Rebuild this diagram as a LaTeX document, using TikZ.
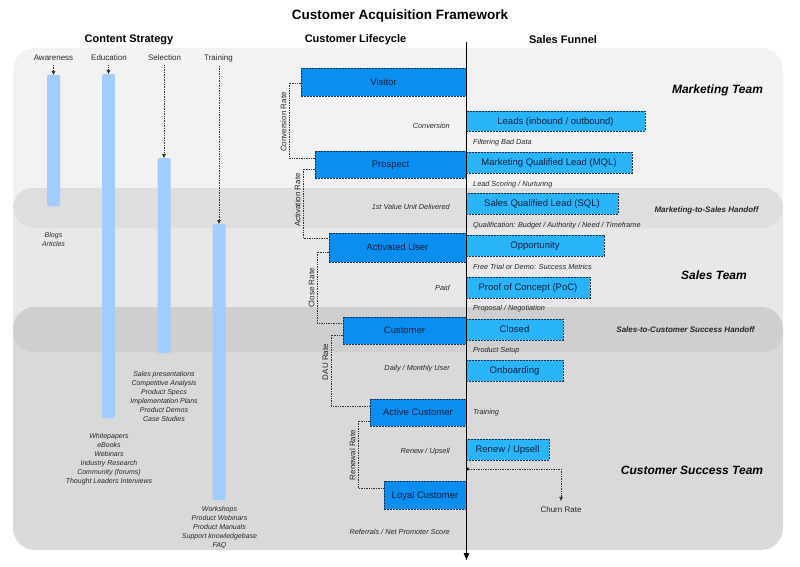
\documentclass[tikz,border=0pt]{standalone}
\usepackage{fontspec}
\setmainfont{Liberation Sans}
\usetikzlibrary{arrows.meta,calc}
\definecolor{pM}{gray}{0.949}
\definecolor{pS}{gray}{0.91}
\definecolor{pMS}{gray}{0.87}
\definecolor{pC}{gray}{0.851}
\definecolor{pSC}{gray}{0.812}
\definecolor{lcblue}{RGB}{10,142,240}
\definecolor{sfblue}{RGB}{42,181,250}
\definecolor{barblue}{RGB}{160,204,255}
\definecolor{boxline}{RGB}{26,48,80}
\definecolor{boxtext}{RGB}{10,30,58}
\definecolor{txt}{gray}{0.15}
\definecolor{dotc}{gray}{0.2}
\tikzset{
  lcbox/.style={draw=boxline, fill=lcblue, dash pattern=on 2pt off 1pt, line width=0.8pt,
    inner sep=0pt, outer sep=0pt, text height=7.4pt, text depth=0.6pt,
    font=\fontsize{9.5}{11}\selectfont, text=boxtext},
  sfbox/.style={lcbox, fill=sfblue},
  cbar/.style={fill=barblue, rounded corners=1.5pt, inner sep=0pt, outer sep=0pt, minimum width=13pt},
  rate/.style={draw=dotc, line width=0.75pt, dash pattern=on 0.8pt off 0.9pt},
  tip/.style={-{Triangle[length=4pt,width=3.6pt]}},
  note/.style={font=\fontsize{7.3}{9}\selectfont\itshape, text=txt, inner sep=0pt},
  lst/.style={font=\fontsize{7}{9}\selectfont\itshape, text=txt, inner sep=0pt, align=center, anchor=north},
  ratelbl/.style={font=\fontsize{8}{9}\selectfont, text=txt, rotate=90, inner sep=0pt},
  collbl/.style={font=\fontsize{8}{9}\selectfont, text=txt, inner sep=0pt},
  head/.style={font=\fontsize{11}{13}\selectfont\bfseries, text=black},
  team/.style={font=\fontsize{12}{14}\selectfont\bfseries\itshape, text=black},
  handoff/.style={font=\fontsize{8}{10}\selectfont\bfseries\itshape, text=txt},
}
\begin{document}
\begin{tikzpicture}[x=1pt,y=-1pt]
\useasboundingbox (0,0) rectangle (800,567);
% panels
\fill[pM, rounded corners=22pt] (13,48) rectangle (783,228);
\fill[pS, rounded corners=20pt] (13,188) rectangle (783,352);
\begin{scope}
  \clip[rounded corners=22pt] (13,48) rectangle (783,228);
  \fill[pMS, rounded corners=20pt] (13,188) rectangle (783,352);
\end{scope}
\fill[pC, rounded corners=22pt] (13,307) rectangle (783,550);
\begin{scope}
  \clip[rounded corners=20pt] (13,188) rectangle (783,352);
  \fill[pSC, rounded corners=22pt] (13,307) rectangle (783,550);
\end{scope}

% titles
\node[font=\fontsize{13.5}{16}\selectfont\bfseries] (title) at (400,16) {Customer Acquisition Framework};
\node[head] (hcs) at (129,40) {Content Strategy};
\node[head] (hcl) at (355.5,40) {Customer Lifecycle};
\node[head] (hsf) at (563,40) {Sales Funnel};

% team labels
\node[team] (tm) at (717.5,90) {Marketing Team};
\node[team] (ts) at (714,275) {Sales Team};
\node[team] (tc) at (692,470) {Customer Success Team};
\node[handoff] (h1) at (706.5,210) {Marketing-to-Sales Handoff};
\node[handoff] (h2) at (685.5,330) {Sales-to-Customer Success Handoff};

% content strategy
\node[collbl] (aw) at (53.5,58) {Awareness};
\node[collbl] (ed) at (109,58) {Education};
\node[collbl] (se) at (164.5,58) {Selection};
\node[collbl] (tr) at (218.5,58) {Training};
\node[cbar, minimum height=131pt] (awbar) at (53.5,140.5) {};
\node[cbar, minimum height=344pt] (edbar) at (108.5,246) {};
\node[cbar, minimum height=195pt] (sebar) at (164,255.5) {};
\node[cbar, minimum height=276pt] (trbar) at (219,362) {};
\draw[rate,tip,shorten <=4pt] (aw.south) -- (awbar.north);
\draw[rate,tip,shorten <=4pt] (ed.south -| edbar.north) -- (edbar.north);
\draw[rate,tip,shorten <=4pt] (se.south -| sebar.north) -- (sebar.north);
\draw[rate,tip,shorten <=4pt] (tr.south -| trbar.north) -- (trbar.north);
\node[lst] (awl) at (53.5,232) {Blogs\\Articles};
\node[lst] (sel) at (164,371) {Sales presentations\\Competitive Analysis\\Product Specs\\Implementation Plans\\Product Demos\\Case Studies};
\node[lst] (edl) at (109,433) {Whitepapers\\eBooks\\Webinars\\Industry Research\\Community (forums)\\Thought Leaders Interviews};
\node[lst] (trl) at (219.5,506) {Workshops\\Product Webinars\\Product Manuals\\Support knowledgebase\\FAQ};

% lifecycle boxes
\node[lcbox, minimum width=165pt, minimum height=28pt] (visitor) at (383.5,82) {Visitor};
\node[lcbox, minimum width=151pt, minimum height=27pt] (prospect) at (390.5,164.5) {Prospect};
\node[lcbox, minimum width=137pt, minimum height=29pt] (activated) at (397.5,247.5) {Activated User};
\node[lcbox, minimum width=123pt, minimum height=27pt] (customer) at (404.5,330.5) {Customer};
\node[lcbox, minimum width=96pt, minimum height=27pt] (active) at (418,412.5) {Active Customer};
\node[lcbox, minimum width=82pt, minimum height=28pt] (loyal) at (425,495) {Loyal Customer};

% rate brackets
\draw[rate] ($(visitor.north west)+(0,15)$) -- ++(-12,0) |- ($(prospect.north west)+(0,7)$);
\draw[rate] ($(prospect.north west)+(0,18)$) -- ++(-12,0) |- ($(activated.north west)+(0,5)$);
\draw[rate] ($(activated.north west)+(0,19)$) -- ++(-12,0) |- ($(customer.north west)+(0,6)$);
\draw[rate] ($(customer.north west)+(0,18)$) -- ++(-12,0) |- ($(active.north west)+(0,7)$);
\draw[rate] ($(active.north west)+(0,22)$) -- ++(-12,0) |- ($(loyal.north west)+(0,7)$);
\node[ratelbl] (r1) at (283.5,122) {Conversion Rate};
\node[ratelbl] (r2) at (297.5,200) {Activation Rate};
\node[ratelbl] (r3) at (311.5,288) {Close Rate};
\node[ratelbl] (r4) at (325.5,362) {DAU Rate};
\node[ratelbl] (r5) at (352.5,455) {Renewal Rate};

% left notes
\node[note, anchor=base east] (n1) at (450,128.6) {Conversion};
\node[note, anchor=base east] (n2) at (450,209.6) {1st Value Unit Delivered};
\node[note, anchor=base east] (n3) at (450,290.6) {Paid};
\node[note, anchor=base east] (n4) at (450,370.6) {Daily / Monthly User};
\node[note, anchor=base east] (n5) at (450,453.6) {Renew / Upsell};
\node[note, anchor=base east] (n6) at (450,534.6) {Referrals / Net Promoter Score};

% funnel boxes
\node[sfbox, minimum width=179pt, minimum height=20pt] (leads) at (555.5,121) {Leads (inbound / outbound)};
\node[sfbox, minimum width=166pt, minimum height=21pt] (mql) at (549,162.5) {Marketing Qualified Lead (MQL)};
\node[sfbox, minimum width=152pt, minimum height=21pt] (sql) at (542,203.5) {Sales Qualified Lead (SQL)};
\node[sfbox, minimum width=138pt, minimum height=21pt] (opp) at (535,245.5) {Opportunity};
\node[sfbox, minimum width=124pt, minimum height=21pt] (poc) at (528,287.5) {Proof of Concept (PoC)};
\node[sfbox, minimum width=97pt, minimum height=21pt] (closed) at (514.5,329.5) {Closed};
\node[sfbox, minimum width=97pt, minimum height=21pt] (onb) at (514.5,370.5) {Onboarding};
\node[sfbox, minimum width=83pt, minimum height=21pt] (renew) at (507.5,449.5) {Renew / Upsell};

% right notes
\node[note, anchor=base west] (m1) at (473,144.6) {Filtering Bad Data};
\node[note, anchor=base west] (m2) at (473,186.6) {Lead Scoring / Nurturing};
\node[note, anchor=base west] (m3) at (473,227.6) {Qualification: Budget / Authority / Need / Timeframe};
\node[note, anchor=base west] (m4) at (473,269.6) {Free Trial or Demo: Success Metrics};
\node[note, anchor=base west] (m5) at (473,310.6) {Proposal / Negotiation};
\node[note, anchor=base west] (m6) at (473,352.6) {Product Setup};
\node[note, anchor=base west] (m7) at (473,414.6) {Training};

% churn
\coordinate (churnstart) at (467.5,469);
\node[collbl] (churn) at (561,510) {Churn Rate};
\draw[rate,tip] (churnstart) -| ($(churn.north)+(0,-6)$);
\fill (churnstart) circle (1.6pt);

% axis
\coordinate (axtop) at (466.5,42);
\coordinate (axbot) at (466.5,560);
\draw[line width=1.3pt,-{Triangle[length=7pt,width=5.5pt]}] (axtop) -- (axbot);
\end{tikzpicture}
\end{document}
